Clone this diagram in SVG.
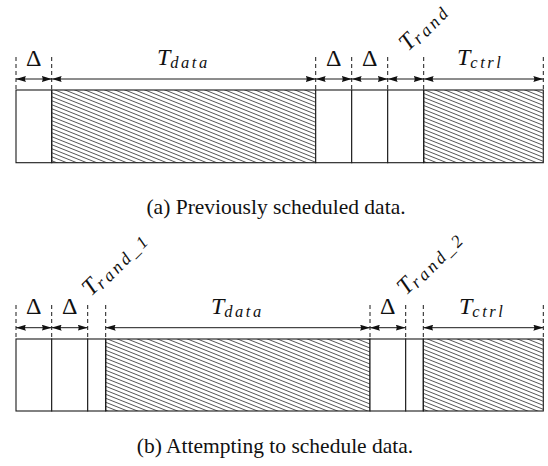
<svg xmlns="http://www.w3.org/2000/svg" width="548" height="466" viewBox="0 0 548 466">
<style>
.bg{fill:#fff}
.seg{fill:#fff;stroke:#1a1a1a;stroke-width:1.1}
.hseg{fill:url(#hatch);stroke:#1a1a1a;stroke-width:1.1}
.tick{stroke:#1a1a1a;stroke-width:1;stroke-dasharray:4 3;fill:none}
.dim{stroke:#1a1a1a;stroke-width:1;fill:none;marker-start:url(#ah);marker-end:url(#ah)}
</style>
<defs>
<pattern id="hatch" patternUnits="userSpaceOnUse" width="10" height="4">
<path d="M-5,-2 L15,6 M-5,2 L5,6 M5,-2 L15,2" stroke="#2a2a2a" stroke-width="0.8"/>
</pattern>
<marker id="ah" viewBox="0 0 10 6" refX="10" refY="3" markerWidth="10" markerHeight="6" markerUnits="userSpaceOnUse" orient="auto-start-reverse">
<path d="M0,0 L10,3 L0,6 Q2,3 0,0 Z" fill="#111"/>
</marker>
</defs>
<rect class="bg" x="0" y="0" width="548" height="466"/>

<!-- (a) -->
<g id="a-delta1"><rect class="seg" x="16" y="90" width="35.7" height="72.7"/></g>
<g id="a-tdata"><rect class="hseg" x="51.7" y="90" width="264" height="72.7"/></g>
<g id="a-delta2"><rect class="seg" x="315.7" y="90" width="36" height="72.7"/></g>
<g id="a-delta3"><rect class="seg" x="351.7" y="90" width="36" height="72.7"/></g>
<g id="a-trand"><rect class="seg" x="387.7" y="90" width="36" height="72.7"/></g>
<g id="a-tctrl"><rect class="hseg" x="423.7" y="90" width="119.6" height="72.7"/></g>

<g id="a-ticks">
<path class="tick" d="M16,57V90 M51.7,57V90 M315.7,57V90 M351.7,57V90 M387.7,57V90 M423.7,57V90 M543.3,57V90"/>
</g>
<g id="a-connectors">
<line class="dim" x1="16" y1="79" x2="51.7" y2="79"/>
<line class="dim" x1="51.7" y1="79" x2="315.7" y2="79"/>
<line class="dim" x1="315.7" y1="79" x2="351.7" y2="79"/>
<line class="dim" x1="351.7" y1="79" x2="387.7" y2="79"/>
<line class="dim" x1="387.7" y1="79" x2="423.7" y2="79"/>
<line class="dim" x1="423.7" y1="79" x2="543.3" y2="79"/>
</g>
<g id="a-labels" font-family="Liberation Serif, serif" fill="#111">
<text font-size="24" x="33.8" y="65.7" text-anchor="middle">Δ</text>
<text font-size="24" x="333.7" y="65.7" text-anchor="middle">Δ</text>
<text font-size="24" x="369.7" y="65.7" text-anchor="middle">Δ</text>
<text x="157" y="65" font-style="italic" font-size="24">T<tspan font-size="16.5" letter-spacing="2.5" dy="3">data</tspan></text>
<text x="457" y="65" font-style="italic" font-size="24">T<tspan font-size="16.5" letter-spacing="2.5" dy="3">ctrl</tspan></text>
<text transform="translate(408,52) rotate(-45)" font-style="italic" font-size="24">T<tspan font-size="17.5" letter-spacing="3" dy="3">rand</tspan></text>
</g>
<text font-family="Liberation Serif, serif" font-size="21.5" fill="#111" x="276" y="214" text-anchor="middle">(a) Previously scheduled data.</text>

<!-- (b) -->
<g id="b-delta1"><rect class="seg" x="16" y="339" width="35.7" height="72"/></g>
<g id="b-delta2"><rect class="seg" x="51.7" y="339" width="36" height="72"/></g>
<g id="b-trand1"><rect class="seg" x="87.7" y="339" width="18" height="72"/></g>
<g id="b-tdata"><rect class="hseg" x="105.7" y="339" width="264.3" height="72"/></g>
<g id="b-delta3"><rect class="seg" x="370" y="339" width="35.7" height="72"/></g>
<g id="b-trand2"><rect class="seg" x="405.7" y="339" width="17.6" height="72"/></g>
<g id="b-tctrl"><rect class="hseg" x="423.3" y="339" width="120" height="72"/></g>

<g id="b-ticks">
<path class="tick" d="M16,305V339 M51.7,305V339 M87.7,305V339 M105.7,305V339 M370,305V339 M405.7,305V339 M423.3,305V339 M543.3,305V339"/>
</g>
<g id="b-connectors">
<line class="dim" x1="16" y1="327.7" x2="51.7" y2="327.7"/>
<line class="dim" x1="51.7" y1="327.7" x2="87.7" y2="327.7"/>
<line class="dim" x1="105.7" y1="327.7" x2="370" y2="327.7"/>
<line class="dim" x1="370" y1="327.7" x2="405.7" y2="327.7"/>
<line class="dim" x1="423.3" y1="327.7" x2="543.3" y2="327.7"/>
</g>
<g id="b-labels" font-family="Liberation Serif, serif" fill="#111">
<text font-size="24" x="33.8" y="314" text-anchor="middle">Δ</text>
<text font-size="24" x="69.7" y="314" text-anchor="middle">Δ</text>
<text font-size="24" x="387.8" y="314" text-anchor="middle">Δ</text>
<text x="211" y="314" font-style="italic" font-size="24">T<tspan font-size="16.5" letter-spacing="2.5" dy="3">data</tspan></text>
<text x="459" y="314" font-style="italic" font-size="24">T<tspan font-size="16.5" letter-spacing="2.5" dy="3">ctrl</tspan></text>
<text transform="translate(91,297) rotate(-45)" font-style="italic" font-size="24">T<tspan font-size="17.5" letter-spacing="3" dy="3">rand_1</tspan></text>
<text transform="translate(406,296) rotate(-45)" font-style="italic" font-size="24">T<tspan font-size="17.5" letter-spacing="3" dy="3">rand_2</tspan></text>
</g>
<text font-family="Liberation Serif, serif" font-size="21.5" fill="#111" x="275" y="453" text-anchor="middle">(b) Attempting to schedule data.</text>
</svg>
